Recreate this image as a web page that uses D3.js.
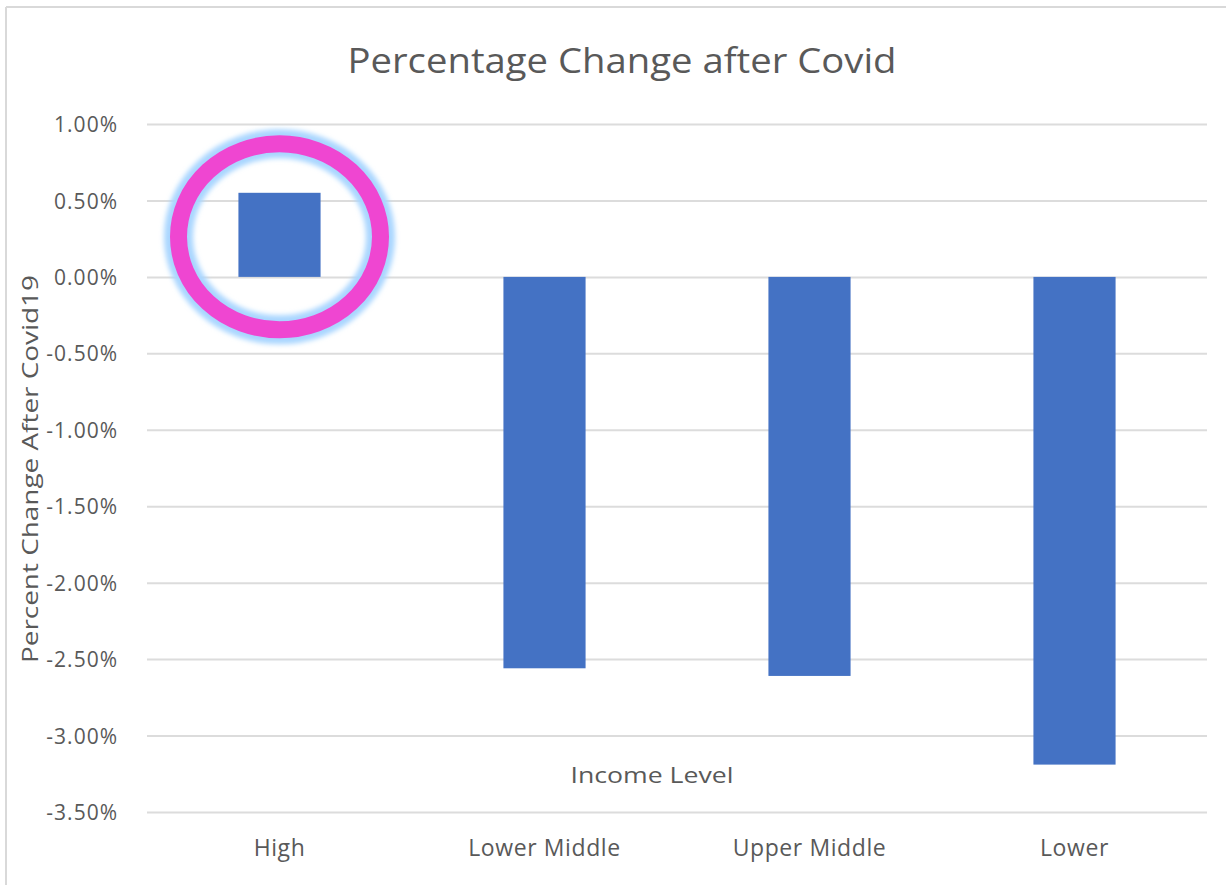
<!DOCTYPE html>
<html>
<head>
<meta charset="utf-8">
<script src="https://cdn.jsdelivr.net/npm/d3@7"></script>
<style>
  html, body { margin: 0; padding: 0; background: #ffffff; }
  svg { display: block; }
  text { font-family: "Open Sans", "Noto Sans", sans-serif; fill: #595959; }
</style>
</head>
<body>
<svg id="chart" width="1226" height="885"></svg>
<script>
const categories = ["High", "Lower Middle", "Upper Middle", "Lower"];
const values = [0.0055, -0.0256, -0.0261, -0.0319];
const yTicks = [0.01, 0.005, 0, -0.005, -0.01, -0.015, -0.02, -0.025, -0.03, -0.035];
const titleText = "Percentage Change after Covid";
const yTitleText = "Percent Change After  Covid19";
const xTitleText = "Income Level";
const highlightCategory = "High";

const svg = d3.select("#chart");
const W = 1226, H = 885;
const plot = { left: 147, right: 1207, top: 124, bottom: 812 };

const x = d3.scaleBand().domain(categories).range([plot.left, plot.right]).paddingInner(0.69).paddingOuter(0.345);
const y = d3.scaleLinear().domain([-0.035, 0.01]).range([plot.bottom, plot.top]);

// chart border (top & left visible)
svg.append("line").attr("x1", 6).attr("x2", W).attr("y1", 7).attr("y2", 7)
  .attr("stroke", "#d9d9d9").attr("stroke-width", 2);
svg.append("line").attr("x1", 6).attr("x2", 6).attr("y1", 7).attr("y2", H)
  .attr("stroke", "#d9d9d9").attr("stroke-width", 2);

// gridlines
const grid = d3.axisLeft(y).tickValues(yTicks).tickSize(-(plot.right - plot.left)).tickFormat("");
svg.append("g").attr("transform", `translate(${plot.left},0)`).call(grid)
  .call(g => g.select(".domain").remove())
  .call(g => g.selectAll("line").attr("stroke", "#dcdcdc").attr("stroke-width", 2));

// y tick labels
const pct = d3.format(".2%");
const yAxis = d3.axisLeft(y).tickValues(yTicks).tickSize(0).tickPadding(29)
  .tickFormat(d => pct(d).replace("\u2212", "-"));
svg.append("g").attr("transform", `translate(${plot.left},0)`).call(yAxis)
  .call(g => g.select(".domain").remove())
  .call(g => g.selectAll("text").attr("font-size", 21).attr("fill", "#595959")
    .attr("letter-spacing", 1)
    .attr("font-family", "'Open Sans', sans-serif").attr("dy", "0.36em"));

// x category labels
const xAxis = d3.axisBottom(x).tickSize(0).tickPadding(0);
svg.append("g").attr("transform", `translate(0,${plot.bottom})`).call(xAxis)
  .call(g => g.select(".domain").remove())
  .call(g => g.selectAll("text").attr("font-size", 23).attr("fill", "#595959")
    .attr("letter-spacing", 0.6)
    .attr("font-family", "'Open Sans', sans-serif").attr("dy", null).attr("y", 44));

// bars
svg.append("g").selectAll("rect").data(categories).join("rect")
  .attr("x", d => x(d))
  .attr("width", x.bandwidth())
  .attr("y", (d, i) => y(Math.max(0, values[i])))
  .attr("height", (d, i) => Math.abs(y(values[i]) - y(0)))
  .attr("fill", "#4472C4");

// title
svg.append("text").attr("x", 622).attr("y", 73).attr("text-anchor", "middle")
  .attr("font-size", 35).attr("textLength", 549).attr("lengthAdjust", "spacingAndGlyphs")
  .text(titleText);

// y axis title
svg.append("text").attr("transform", "translate(38,469) rotate(-90)").attr("text-anchor", "middle")
  .attr("font-size", 21).attr("textLength", 388).attr("lengthAdjust", "spacingAndGlyphs")
  .text(yTitleText);

// x axis title
svg.append("text").attr("x", 652).attr("y", 783).attr("text-anchor", "middle")
  .attr("font-size", 21).attr("textLength", 163).attr("lengthAdjust", "spacingAndGlyphs")
  .text(xTitleText);

// highlight ellipse
const defs = svg.append("defs");
defs.append("filter").attr("id", "glow").attr("x", "-30%").attr("y", "-30%").attr("width", "160%").attr("height", "160%")
  .append("feGaussianBlur").attr("stdDeviation", 2.5);
const hi = categories.indexOf(highlightCategory);
const cx = x(highlightCategory) + x.bandwidth() / 2;
const cy = (y(values[hi]) + y(0)) / 2 + 2;
svg.append("ellipse").attr("cx", cx).attr("cy", cy).attr("rx", 101).attr("ry", 93)
  .attr("fill", "none").attr("stroke", "#a9d6ff").attr("stroke-width", 29).attr("filter", "url(#glow)");
svg.append("ellipse").attr("cx", cx).attr("cy", cy).attr("rx", 101).attr("ry", 93)
  .attr("fill", "none").attr("stroke", "#ef46d1").attr("stroke-width", 17);
</script>
</body>
</html>
